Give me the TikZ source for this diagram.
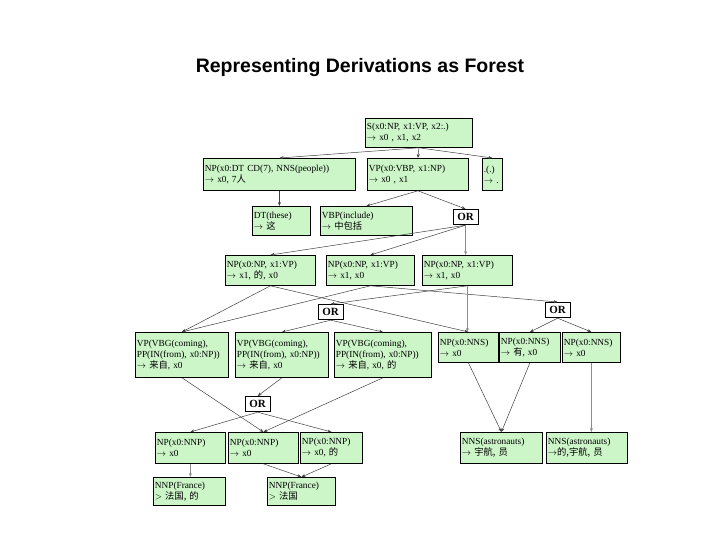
\documentclass[tikz,border=0pt]{standalone}
\usepackage{fontspec}
\setmainfont{Liberation Serif}
\newfontfamily\cjk{Noto Sans CJK SC}
\newfontfamily\arialf{Liberation Sans}
\usetikzlibrary{arrows.meta}
\definecolor{boxg}{HTML}{CCF5C8}
\begin{document}
\begin{tikzpicture}[x=1pt,y=-1pt,
  bx/.style={draw, fill=boxg, align=left, inner xsep=1.5pt, inner ysep=2pt, anchor=north west, font=\fontsize{9.3}{11}\selectfont, line width=0.8pt},
  orb/.style={draw, fill=white, inner xsep=4pt, inner ysep=4pt, anchor=north west, font=\bfseries\fontsize{11}{12}\selectfont, line width=0.8pt},
  ar/.style={-{Stealth[length=4pt,width=3pt]}, draw=black!75, line width=0.5pt},
  gr/.style={-{Stealth[length=4pt,width=3pt]}, draw=black!45, line width=1.4pt}]
\useasboundingbox (0,0) rectangle (720,540);
\node[font=\arialf\bfseries\fontsize{19.5}{22}\selectfont] (title) at (360,68) {Representing Derivations as Forest};
\node[bx,text width=104,minimum height=29] (S) at (365,118) {S(x0:NP, x1:VP, x2:.)\\$\to$ x0 , x1, x2};
\node[bx,text width=149,minimum height=32] (NPa) at (203,158) {NP(x0:DT CD(7), NNS(people))\\$\to$ x0, 7{\cjk 人}};
\node[bx,text width=98,minimum height=32] (VPa) at (367,158) {VP(x0:VBP, x1:NP)\\$\to$ x0 , x1};
\node[bx,text width=17,minimum height=32] (dot) at (482,158) {.(.)\\$\to$ .};
\node[bx,text width=55,minimum height=29] (DT) at (252,206) {DT(these)\\$\to$ {\cjk 这}};
\node[bx,text width=89,minimum height=29] (VBP) at (320,206) {VBP(include)\\$\to$ {\cjk 中包括}};
\node[orb] (OR1) at (453,209) {OR};
\node[bx,text width=87,minimum height=30] (R1) at (225,255) {NP(x0:NP, x1:VP)\\$\to$ x1, {\cjk 的}, x0};
\node[bx,text width=85,minimum height=30] (R2) at (326,255) {NP(x0:NP, x1:VP)\\$\to$ x1, x0};
\node[bx,text width=87,minimum height=30] (R3) at (422,255) {NP(x0:NP, x1:VP)\\$\to$ x1, x0};
\node[orb] (OR2) at (318,304) {OR};
\node[orb] (OR3) at (545,302) {OR};
\node[bx,text width=90,minimum height=45] (V1) at (135,332) {VP(VBG(coming),\\PP(IN(from),~x0:NP))\\$\to$ {\cjk 来自}, x0};
\node[bx,text width=90,minimum height=45] (V2) at (235,332) {VP(VBG(coming),\\PP(IN(from),~x0:NP))\\$\to$ {\cjk 来自}, x0};
\node[bx,text width=94,minimum height=45] (V3) at (334,332) {VP(VBG(coming),\\PP(IN(from),~x0:NP))\\$\to$ {\cjk 来自}, x0, {\cjk 的}};
\node[bx,text width=57,minimum height=30] (N1) at (438,332) {NP(x0:NNS)\\$\to$ x0};
\node[bx,text width=58,minimum height=30] (N2) at (499,332) {NP(x0:NNS)\\$\to$ {\cjk 有}, x0};
\node[bx,text width=55,minimum height=30] (N3) at (562,332) {NP(x0:NNS)\\$\to$ x0};
\node[orb] (OR4) at (245,396) {OR};
\node[bx,text width=67,minimum height=31] (P1) at (155,432) {NP(x0:NNP)\\$\to$ x0};
\node[bx,text width=67,minimum height=31] (P2) at (228,432) {NP(x0:NNP)\\$\to$ x0};
\node[bx,text width=59,minimum height=31] (P3) at (300,432) {NP(x0:NNP)\\$\to$ x0, {\cjk 的}};
\node[bx,text width=79,minimum height=31] (A1) at (460,432) {NNS(astronauts)\\$\to$ {\cjk 宇航, 员}};
\node[bx,text width=78,minimum height=31] (A2) at (546,432) {NNS(astronauts)\\$\to${\cjk 的,宇航, 员}};
\node[bx,text width=69,minimum height=28] (F1) at (153,477) {NNP(France)\\$>$ {\cjk 法国, 的}};
\node[bx,text width=65,minimum height=28] (F2) at (267,477) {NNP(France)\\$>$ {\cjk 法国}};
% connectors
\draw[ar] (S.south) -- (NPa.north);
\draw[ar] (S.south) -- (VPa.north);
\draw[ar] (S.south) -- (dot.north);
\draw[ar] (NPa.south) -- (DT.north -| NPa.south);
\draw[ar] (VPa.south) -- (VBP.north);
\draw[ar] (VPa.south) -- (OR1.north);
\draw[ar] (OR1.south) -- (R1.north);
\draw[ar] (OR1.south) -- (R2.north);
\draw[gr] (OR1.south) -- (R3.north -| OR1.south);
\draw[ar] (R1.south) -- (V1.north);
\draw[ar] (R1.south) -- (N1.north);
\draw[ar] (R2.south) -- (V1.north);
\draw[ar] (R2.south) -- (OR3.north);
\draw[ar] (R3.south) -- (OR2.north);
\draw[gr] (R3.south) -- (N1.north -| R3.south);
\draw[ar] (OR2.south) -- (V2.north);
\draw[ar] (OR2.south) -- (V3.north);
\draw[ar] (OR3.south) -- (N2.north);
\draw[ar] (OR3.south) -- (N3.north);
\draw[ar] (V1.south) -- (P2.north);
\draw[ar] (V2.south) -- (OR4.north);
\draw[ar] (V3.south) -- (P2.north);
\draw[ar] (OR4.south) -- (P1.north);
\draw[ar] (OR4.south) -- (P3.north);
\draw[gr] (P1.south) -- (F1.north -| P1.south);
\draw[ar] (P2.south) -- (F2.north);
\draw[ar] (P3.south) -- (F2.north);
\draw[ar] (N1.south) -- (A1.north);
\draw[ar] (N2.south) -- (A1.north);
\draw[gr] (N3.south) -- (A2.north -| N3.south);
\end{tikzpicture}
\end{document}
